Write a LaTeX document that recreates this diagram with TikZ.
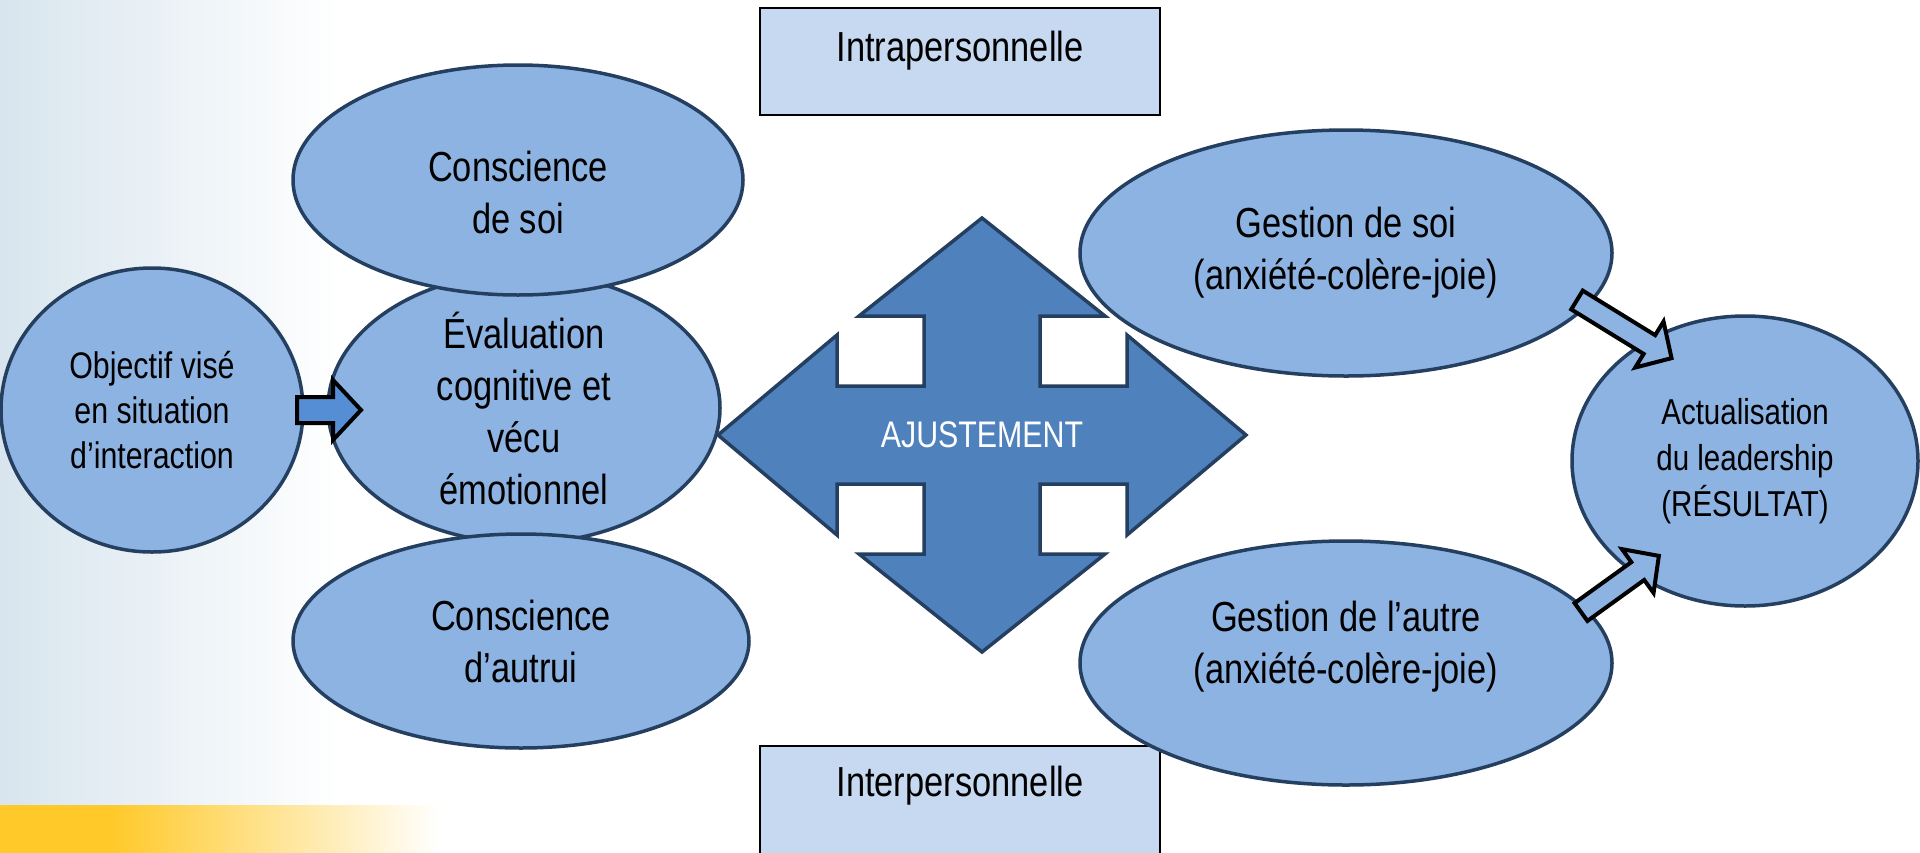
\documentclass[tikz,border=0pt]{standalone}
\usepackage{fontspec}
\setmainfont{Liberation Sans}
\newfontfamily\narrowfont[FakeStretch=0.82]{Liberation Sans}
\usepackage{tikz}
\usetikzlibrary{shapes.geometric,positioning}
\definecolor{ovalfill}{HTML}{8DB3E2}
\definecolor{ovalline}{HTML}{243F60}
\definecolor{quadfill}{HTML}{4F81BD}
\definecolor{tagfill}{HTML}{C6D9F1}
\definecolor{pushfill}{HTML}{558ED5}
\definecolor{bgblue}{HTML}{D8E5EE}
\definecolor{barorange}{HTML}{FFC929}

\begin{document}
\begin{tikzpicture}[x=1pt,y=-1pt,
oval/.style={ellipse,draw=ovalline,line width=3.5pt,fill=ovalfill,inner sep=0pt},
ovaltext/.style={align=center,inner sep=0pt,font=\narrowfont\fontsize{42}{52}\selectfont},
smalltext/.style={align=center,inner sep=0pt,font=\narrowfont\fontsize{37}{45}\selectfont},
tagbox/.style={draw=black,line width=2.5pt,fill=tagfill,minimum width=400pt,inner sep=0pt},
quad/.style={draw=ovalline,line width=3.5pt,fill=quadfill,line join=miter},
push/.style={draw=black,line width=4pt,fill=pushfill,line join=miter},
pushlight/.style={push,fill=ovalfill}
]
\useasboundingbox (0,0) rectangle (1920,852);
% background bands
\shade[left color=bgblue,right color=white] (0,0) rectangle (340,805);
\fill[barorange] (0,805) rectangle (110,860);
\shade[left color=barorange,right color=white] (110,805) rectangle (440,860);

% level boxes
\node[tagbox,minimum height=107pt] (intra) at (960,61.5) {};
\node[ovaltext,below=24pt of intra.north] (intra-t) {Intrapersonnelle};
\node[tagbox,minimum height=124pt] (inter) at (960,808) {};
\node[ovaltext,below=21pt of inter.north] (inter-t) {Interpersonnelle};

% ovals
\node[oval,minimum width=302pt,minimum height=284pt] (goal) at (152,410) {};
\node[oval,minimum width=392pt,minimum height=270pt] (eval) at (524,408) {};
\node[oval,minimum width=450pt,minimum height=230pt] (csoi) at (518,180) {};
\node[oval,minimum width=456pt,minimum height=214pt] (cautre) at (521,641) {};
\node[oval,minimum width=532pt,minimum height=246pt] (gsoi) at (1346,253) {};
\node[oval,minimum width=532pt,minimum height=244pt] (gautre) at (1346,663) {};
\node[oval,minimum width=346pt,minimum height=290pt] (actu) at (1745,461) {};

\node[smalltext] (goal-t) at (goal) {Objectif visé\\en situation\\d’interaction};
\node[ovaltext] (eval-t) at (eval) {Évaluation\\cognitive et\\vécu\\émotionnel};
\node[ovaltext] (csoi-t) at ([yshift=-12pt]csoi.center) {Conscience\\de soi};
\node[ovaltext] (cautre-t) at (cautre) {Conscience\\d’autrui};
\node[ovaltext] (gsoi-t) at (gsoi) {Gestion de soi\\(anxiété-colère-joie)};
\node[ovaltext] (gautre-t) at ([yshift=16pt]gautre.center) {Gestion de l’autre\\(anxiété-colère-joie)};
\node[ovaltext,font=\narrowfont\fontsize{36}{46}\selectfont] (actu-t) at (actu) {Actualisation\\du leadership\\(RÉSULTAT)};

% four-way arrow
\coordinate (adj) at (982,435);
\draw[quad,shift={(adj)}] (0,-217) -- (-123,-119) -- (-58,-119) -- (-58,-49) -- (-145,-49) -- (-145,-100) -- (-264,0)
  -- (-145,100) -- (-145,49) -- (-58,49) -- (-58,119) -- (-123,119) -- (0,217)
  -- (123,119) -- (58,119) -- (58,49) -- (145,49) -- (145,100) -- (264,0)
  -- (145,-100) -- (145,-49) -- (58,-49) -- (58,-119) -- (123,-119) -- cycle;
\node[font=\narrowfont\fontsize{37}{44}\selectfont,text=white,inner sep=0pt] (ajust) at (adj) {AJUSTEMENT};

% block arrows
\draw[push,shift={(297,410)}] (0,-13) -- (36,-13) -- (36,-30) -- (64,0) -- (36,30) -- (36,13) -- (0,13) -- cycle;
\draw[pushlight,shift={(1577,300)},rotate=-31.6] (0,-11) -- (85,-11) -- (85,-27) -- (111,0) -- (85,27) -- (85,11) -- (0,11) -- cycle;
\draw[pushlight,shift={(1581,612)},rotate=35.8] (0,-11) -- (70,-11) -- (70,-27) -- (96,0) -- (70,27) -- (70,11) -- (0,11) -- cycle;
\end{tikzpicture}
\end{document}
